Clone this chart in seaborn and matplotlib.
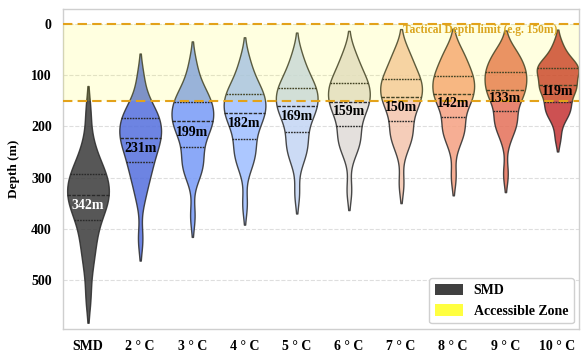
import numpy as np
import pandas as pd
import matplotlib
matplotlib.use("Agg")
import matplotlib.pyplot as plt
from matplotlib.patches import Patch
import seaborn as sns

# Scenarios: the SMD baseline followed by warming levels
categories = ["SMD", "2 ° C", "3 ° C", "4 ° C", "5 ° C",
              "6 ° C", "7 ° C", "8 ° C", "9 ° C", "10 ° C"]

# Depth samples (m) per scenario
depth_smd = [170, 225, 250, 268, 280, 290, 294, 302, 310, 318, 326, 332,
             338, 344, 352, 360, 368, 378, 395, 412, 430, 452, 480, 535]
depth_2c = [100, 135, 155, 165, 175, 181, 185, 192, 200, 207, 213, 219,
            225, 231, 240, 245, 255, 268, 278, 288, 302, 320, 345, 420]
depth_3c = [75, 105, 122, 134, 143, 148, 153, 162, 168, 174, 180, 187,
            193, 198, 205, 213, 222, 236, 255, 265, 275, 288, 300, 375]
depth_4c = [66, 88, 105, 117, 126, 133, 138, 145, 151, 157, 163, 170,
            176, 181, 188, 196, 205, 219, 238, 245, 255, 268, 286, 352]
depth_5c = [56, 78, 92, 104, 113, 121, 126, 132, 138, 144, 150, 157,
            163, 168, 175, 183, 192, 206, 225, 232, 242, 256, 272, 331]
depth_6c = [52, 70, 82, 94, 103, 112, 117, 122, 128, 134, 140, 149,
            155, 158, 165, 173, 182, 194, 215, 220, 228, 240, 258, 325]
depth_7c = [48, 62, 73, 85, 94, 104, 109, 113, 119, 125, 131, 139,
            145, 149, 156, 164, 173, 185, 206, 210, 218, 230, 250, 312]
depth_8c = [46, 58, 68, 77, 86, 98, 102, 105, 111, 117, 123, 133,
            139, 141, 148, 154, 163, 175, 198, 200, 208, 220, 240, 298]
depth_9c = [48, 56, 64, 72, 77, 90, 94, 96, 101, 106, 112, 125,
            131, 131, 136, 143, 152, 164, 186, 188, 194, 205, 228, 293]
depth_10c = [38, 56, 66, 76, 80, 83, 87, 90, 92, 98, 104, 116,
             122, 124, 127, 130, 134, 151, 158, 164, 170, 178, 190, 222]

samples = [depth_smd, depth_2c, depth_3c, depth_4c, depth_5c,
           depth_6c, depth_7c, depth_8c, depth_9c, depth_10c]

tactical_limit = 150
zone_label = "Tactical Depth limit (e.g. 150m)"

df = pd.DataFrame({
    "scenario": np.repeat(categories, [len(s) for s in samples]),
    "depth": np.concatenate(samples),
})

plt.rcParams["font.family"] = ["Liberation Serif", "DejaVu Serif"]
plt.rcParams["font.weight"] = "bold"
plt.rcParams["axes.labelweight"] = "bold"

cmap = matplotlib.colormaps["coolwarm"]
warm_colors = [matplotlib.colors.to_hex(cmap(v))
               for v in np.linspace(0.08, 0.95, 9)]
palette = ["#3a3a3a"] + warm_colors

fig = plt.figure(figsize=(5.81, 3.53), dpi=100)
ax = fig.add_axes([0.108, 0.068, 0.889, 0.906])

sns.violinplot(data=df, x="scenario", y="depth", hue="scenario",
               order=categories, hue_order=categories, palette=palette,
               legend=False, inner="quart", density_norm="width",
               bw_adjust=0.7, cut=1.6, linewidth=1.0, linecolor="#2a2a2a",
               saturation=1, alpha=0.85, ax=ax)

# Accessible zone band drawn over the violins
ax.axhspan(0, tactical_limit, color="yellow", alpha=0.12, zorder=3, lw=0)
for y in (0, tactical_limit):
    ax.axhline(y, color="#E3A21A", ls=(0, (4.5, 2.5)), lw=1.5, zorder=4)
ax.text(9, 0, zone_label, color="#DAA520", fontsize=8.3, fontweight="bold",
        ha="right", va="top", zorder=5)

# Mean depth labels
for i, s in enumerate(samples):
    m = np.mean(s)
    ax.text(i, m, f"{m:.0f}m", ha="center", va="top", fontsize=10,
            fontweight="bold", color="white" if i == 0 else "black",
            zorder=6)

ax.set_xlim(-0.484, 9.415)
ax.set_ylim(596, -29)
ax.set_yticks([0, 100, 200, 300, 400, 500])
ax.set_xlabel("")
ax.set_ylabel("Depth (m)", fontsize=9.5, fontweight="bold", labelpad=8)
ax.tick_params(axis="both", length=0, labelsize=10, pad=8)
for lab in ax.get_xticklabels() + ax.get_yticklabels():
    lab.set_fontweight("bold")

ax.set_facecolor("white")
ax.yaxis.grid(True, ls="--", color="#dedede", lw=0.8)
ax.xaxis.grid(False)
ax.set_axisbelow(True)
for sp in ax.spines.values():
    sp.set_color("#cfcfcf")
    sp.set_linewidth(1.0)

handles = [Patch(facecolor="#404040", edgecolor="none", label="SMD"),
           Patch(facecolor="yellow", alpha=0.75, edgecolor="none",
                 label="Accessible Zone")]
leg = ax.legend(handles=handles, loc="lower right", fontsize=10,
                frameon=True, framealpha=1, edgecolor="#d0d0d0",
                borderaxespad=0.4, handleheight=0.9)
for t in leg.get_texts():
    t.set_fontweight("bold")

fig.savefig("out.png", dpi=100)
